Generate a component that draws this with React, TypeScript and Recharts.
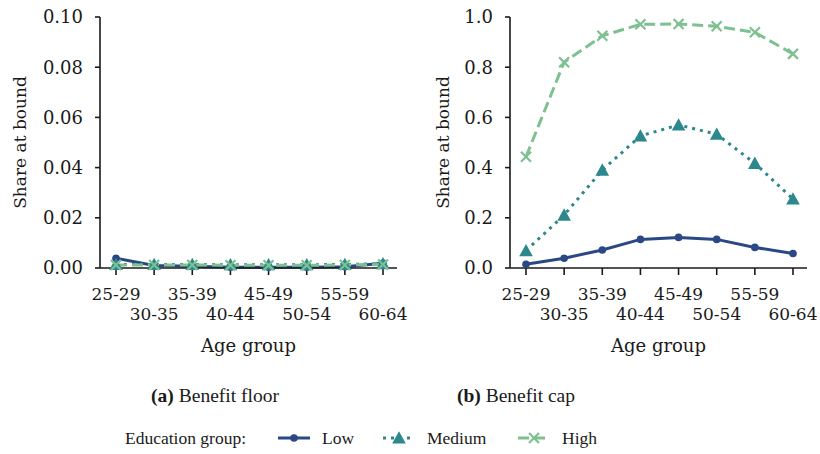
import React from "react";
import { LineChart, Line, XAxis, YAxis, Label } from "recharts";

const ageGroups = ["25-29", "30-35", "35-39", "40-44", "45-49", "50-54", "55-59", "60-64"];

// (a) benefit floor
const floorLow = [0.0039, 0.001, 0.0007, 0.0003, 0.0003, 0.0003, 0.0005, 0.0019];
const floorMedium = [0.0014, 0.0014, 0.0014, 0.0013, 0.0013, 0.0013, 0.0014, 0.0017];
const floorHigh = [0.0012, 0.0012, 0.0012, 0.0011, 0.0011, 0.0011, 0.0012, 0.0014];
const floorTicks = [0, 0.02, 0.04, 0.06, 0.08, 0.1];

// (b) benefit cap
const capLow = [0.015, 0.039, 0.072, 0.114, 0.122, 0.114, 0.082, 0.058];
const capMedium = [0.069, 0.211, 0.39, 0.526, 0.57, 0.533, 0.417, 0.275];
const capHigh = [0.443, 0.82, 0.925, 0.971, 0.972, 0.963, 0.939, 0.853];
const capTicks = [0, 0.2, 0.4, 0.6, 0.8, 1.0];

const seriesNames = ["Low", "Medium", "High"];
const seriesKeys = ["low", "medium", "high"];

const COLORS: Record<string, string> = { low: "#2a4884", medium: "#2c888c", high: "#7ec091" };
const DASH: Record<string, string | undefined> = { low: undefined, medium: "3 5", high: "11 5" };
const AXIS_FONT = "'DejaVu Serif', serif";
const CAP_FONT = "'Liberation Serif', serif";
const INK = "#1a1a1a";

function Marker({ kind, cx, cy, color }: { kind: string; cx: number; cy: number; color: string }) {
  if (cx == null || cy == null) return null;
  if (kind === "low") return <circle cx={cx} cy={cy} r={3.8} fill={color} />;
  if (kind === "medium")
    return <path d={`M${cx},${cy - 6.8}L${cx + 6.8},${cy + 5.6}L${cx - 6.8},${cy + 5.6}Z`} fill={color} />;
  return (
    <path
      d={`M${cx - 5},${cy - 5}L${cx + 5},${cy + 5}M${cx - 5},${cy + 5}L${cx + 5},${cy - 5}`}
      stroke={color}
      strokeWidth={2.2}
      fill="none"
    />
  );
}

function AgeTick(props: any) {
  const { x, payload } = props;
  const idx = ageGroups.indexOf(payload.value);
  return (
    <text x={x} y={idx % 2 === 0 ? 300 : 320} textAnchor="middle" fontFamily={AXIS_FONT} fontSize={17} fill={INK}>
      {payload.value}
    </text>
  );
}

function Panel({
  low,
  medium,
  high,
  ticks,
  digits,
  labelX,
}: {
  low: number[];
  medium: number[];
  high: number[];
  ticks: number[];
  digits: number;
  labelX: number;
}) {
  const data = ageGroups.map((g, i) => ({ group: g, low: low[i], medium: medium[i], high: high[i] }));
  return (
    <LineChart width={410} height={360} data={data} margin={{ top: 17, right: 13, bottom: 0, left: 0 }}>
      <XAxis
        dataKey="group"
        height={92}
        interval={0}
        padding={{ left: 16, right: 14 }}
        tickSize={7}
        tick={<AgeTick />}
        axisLine={{ stroke: INK, strokeWidth: 1.6 }}
        tickLine={{ stroke: INK, strokeWidth: 1.6 }}
      >
        <Label
          content={(p: any) => {
            const vb = p.viewBox;
            return (
              <text x={vb.x + vb.width / 2} y={vb.y + 84} textAnchor="middle" fontFamily={AXIS_FONT} fontSize={18} fill={INK}>
                Age group
              </text>
            );
          }}
        />
      </XAxis>
      <YAxis
        width={100}
        type="number"
        domain={[ticks[0], ticks[ticks.length - 1]]}
        ticks={ticks}
        interval={0}
        tickFormatter={(v: number) => v.toFixed(digits)}
        tickSize={5}
        tickMargin={12}
        tick={{ fontFamily: AXIS_FONT, fontSize: 18, fill: INK }}
        axisLine={{ stroke: INK, strokeWidth: 1.6 }}
        tickLine={{ stroke: INK, strokeWidth: 1.6 }}
      >
        <Label
          content={(p: any) => {
            const vb = p.viewBox;
            const cy = vb.y + vb.height / 2;
            return (
              <text
                x={labelX}
                y={cy}
                transform={`rotate(-90, ${labelX}, ${cy})`}
                textAnchor="middle"
                dominantBaseline="central"
                fontFamily={AXIS_FONT}
                fontSize={17}
                fill={INK}
              >
                Share at bound
              </text>
            );
          }}
        />
      </YAxis>
      {seriesKeys.map((k) => (
        <Line
          key={k}
          dataKey={k}
          stroke={COLORS[k]}
          strokeWidth={3}
          strokeDasharray={DASH[k]}
          type="linear"
          isAnimationActive={false}
          activeDot={false}
          dot={(p: any) => <Marker key={`${k}-${p.index}`} kind={k} cx={p.cx} cy={p.cy} color={COLORS[k]} />}
        />
      ))}
    </LineChart>
  );
}

function Footer() {
  const legendX = [278, 383, 518];
  return (
    <svg width={820} height={94} style={{ position: "absolute", left: 0, top: 360 }}>
      <text x={215} y={42} textAnchor="middle" fontFamily={CAP_FONT} fontSize={19.5} fill={INK}>
        <tspan fontWeight="bold">(a)</tspan> Benefit floor
      </text>
      <text x={516} y={42} textAnchor="middle" fontFamily={CAP_FONT} fontSize={19.5} fill={INK}>
        <tspan fontWeight="bold">(b)</tspan> Benefit cap
      </text>
      <text x={125} y={84} fontFamily={CAP_FONT} fontSize={17.5} fill={INK}>
        Education group:
      </text>
      {seriesKeys.map((k, i) => (
        <g key={k}>
          <line
            x1={legendX[i]}
            x2={legendX[i] + 32}
            y1={78}
            y2={78}
            stroke={COLORS[k]}
            strokeWidth={3}
            strokeDasharray={DASH[k]}
          />
          <Marker kind={k} cx={legendX[i] + 16} cy={78} color={COLORS[k]} />
          <text x={legendX[i] + 44} y={84} fontFamily={CAP_FONT} fontSize={17.5} fill={INK}>
            {seriesNames[i]}
          </text>
        </g>
      ))}
    </svg>
  );
}

export default function App() {
  return (
    <div style={{ position: "relative", width: 820, height: 454, background: "#fff" }}>
      <style>{`body{margin:0}`}</style>
      <div style={{ position: "absolute", left: 0, top: 0 }}>
        <Panel low={floorLow} medium={floorMedium} high={floorHigh} ticks={floorTicks} digits={2} labelX={20} />
      </div>
      <div style={{ position: "absolute", left: 410, top: 0 }}>
        <Panel low={capLow} medium={capMedium} high={capHigh} ticks={capTicks} digits={1} labelX={33} />
      </div>
      <Footer />
    </div>
  );
}
